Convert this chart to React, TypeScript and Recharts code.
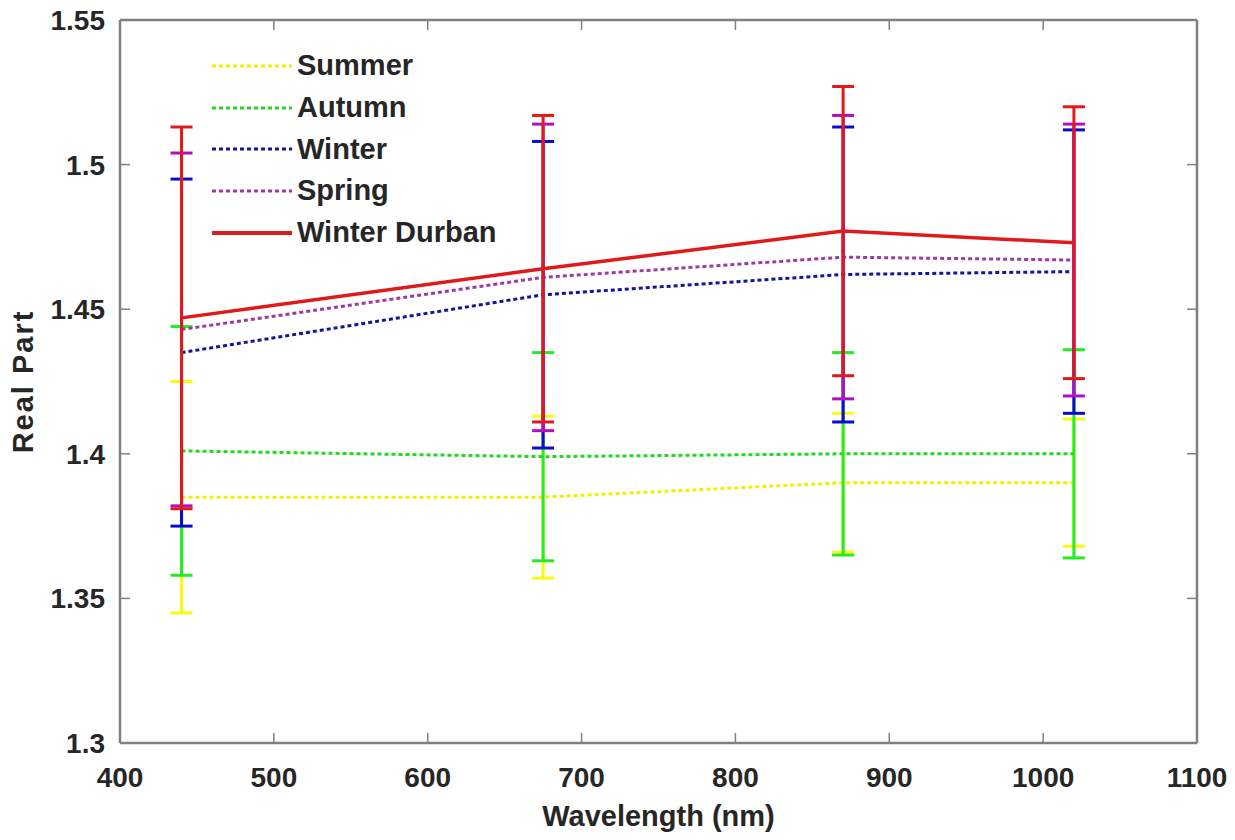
import { LineChart, Line, XAxis, YAxis, ErrorBar, Legend } from 'recharts';

// wavelengths (nm) and seasonal real refractive index with std dev
const wavelengths = [440, 675, 870, 1020];
const summer = [1.385, 1.385, 1.39, 1.39];
const summerErr = [0.04, 0.028, 0.024, 0.022];
const autumn = [1.401, 1.399, 1.4, 1.4];
const autumnErr = [0.043, 0.036, 0.035, 0.036];
const winter = [1.435, 1.455, 1.462, 1.463];
const winterErr = [0.06, 0.053, 0.051, 0.049];
const spring = [1.443, 1.461, 1.468, 1.467];
const springErr = [0.061, 0.053, 0.049, 0.047];
const durban = [1.447, 1.464, 1.477, 1.473];
const durbanErr = [0.066, 0.053, 0.05, 0.047];

const xTicks = [400, 500, 600, 700, 800, 900, 1000, 1100];
const yTicks = [1.3, 1.35, 1.4, 1.45, 1.5, 1.55];

const data = wavelengths.map((wl, i) => ({
  wl,
  summer: summer[i],
  summerErr: summerErr[i],
  autumn: autumn[i],
  autumnErr: autumnErr[i],
  winter: winter[i],
  winterErr: winterErr[i],
  spring: spring[i],
  springErr: springErr[i],
  durban: durban[i],
  durbanErr: durbanErr[i],
}));

const SERIES = [
  { key: 'summer', name: 'Summer', color: '#f0f000', errColor: '#fafa10', dash: '4 3' },
  { key: 'autumn', name: 'Autumn', color: '#22d822', errColor: '#22ee22', dash: '4 3' },
  { key: 'winter', name: 'Winter', color: '#15159a', errColor: '#0a0ad0', dash: '4 3' },
  { key: 'spring', name: 'Spring', color: '#a03aa0', errColor: '#b010c0', dash: '4 3' },
  { key: 'durban', name: 'Winter Durban', color: '#e01a1a', errColor: '#e01a1a', dash: undefined },
];

const FONT = '"Liberation Sans", Arial, sans-serif';
const AXIS = '#808080';
const TEXT = '#262626';
const TICK_LEN = 10;
const X_MARGIN = 24;
const Y_MARGIN = 15;

const labelStyle = { fontSize: 28, fontWeight: 700, fill: TEXT, fontFamily: FONT };

// inward tick + label for the bottom axis
function BottomTick(props: any) {
  const { x, y, payload } = props;
  const axisY = y - X_MARGIN;
  return (
    <g>
      <line x1={x} y1={axisY} x2={x} y2={axisY - TICK_LEN} stroke={AXIS} strokeWidth={1.5} />
      <text x={x} y={y} dy="0.71em" textAnchor="middle" style={labelStyle}>
        {payload.value}
      </text>
    </g>
  );
}

function LeftTick(props: any) {
  const { x, y, payload } = props;
  const axisX = x + Y_MARGIN;
  return (
    <g>
      <line x1={axisX} y1={y} x2={axisX + TICK_LEN} y2={y} stroke={AXIS} strokeWidth={1.5} />
      <text x={x} y={y} dy="0.36em" textAnchor="end" style={labelStyle}>
        {payload.value}
      </text>
    </g>
  );
}

function TopTick(props: any) {
  const { x, y } = props;
  return <line x1={x} y1={y} x2={x} y2={y + TICK_LEN} stroke={AXIS} strokeWidth={1.5} />;
}

function RightTick(props: any) {
  const { x, y } = props;
  return <line x1={x} y1={y} x2={x - TICK_LEN} y2={y} stroke={AXIS} strokeWidth={1.5} />;
}

function LegendBox() {
  return (
    <div style={{ fontFamily: FONT, fontWeight: 700, fontSize: 29, color: TEXT }}>
      {SERIES.map((s) => (
        <div key={s.key} style={{ display: 'flex', alignItems: 'center', height: 41.7 }}>
          <svg width={85} height={10}>
            <line
              x1={0}
              y1={5}
              x2={80}
              y2={5}
              stroke={s.color}
              strokeWidth={s.dash ? 3 : 4}
              strokeDasharray={s.dash}
            />
          </svg>
          <span style={{ lineHeight: 1 }}>{s.name}</span>
        </div>
      ))}
    </div>
  );
}

function YLabel(props: any) {
  const vb = props.viewBox || {};
  const cx = vb.x + 23;
  const cy = vb.y + vb.height / 2;
  return (
    <text
      x={cx}
      y={cy}
      transform={`rotate(-90, ${cx}, ${cy})`}
      textAnchor="middle"
      dominantBaseline="central"
      style={{ fontSize: 29, fontWeight: 700, fill: TEXT, fontFamily: FONT, letterSpacing: 2 }}
    >
      Real Part
    </text>
  );
}

export default function App() {
  return (
    <div style={{ position: 'absolute', left: 0, top: 0, width: 1235, height: 840, background: '#fff' }}>
      <LineChart
        width={1235}
        height={840}
        data={data}
        margin={{ top: 19, right: 37, bottom: 0, left: 0 }}
      >
        <XAxis
          dataKey="wl"
          type="number"
          domain={[400, 1100]}
          ticks={xTicks}
          allowDataOverflow
          height={97}
          stroke={AXIS}
          strokeWidth={2.5}
          tickLine={false}
          tickSize={0}
          tickMargin={X_MARGIN}
          tick={<BottomTick />}
          label={{
            value: 'Wavelength (nm)',
            position: 'insideBottom',
            offset: 14,
            style: { fontSize: 29, fontWeight: 700, fill: TEXT, fontFamily: FONT },
          }}
        />
        <XAxis
          xAxisId="top"
          orientation="top"
          dataKey="wl"
          type="number"
          domain={[400, 1100]}
          ticks={xTicks}
          allowDataOverflow
          height={1}
          stroke={AXIS}
          strokeWidth={2.5}
          tickLine={false}
          tickSize={0}
          tickMargin={0}
          tick={<TopTick />}
        />
        <YAxis
          type="number"
          domain={[1.3, 1.55]}
          ticks={yTicks}
          allowDataOverflow
          width={120}
          stroke={AXIS}
          strokeWidth={2.5}
          tickLine={false}
          tickSize={0}
          tickMargin={Y_MARGIN}
          tick={<LeftTick />}
          label={<YLabel />}
        />
        <YAxis
          yAxisId="right"
          orientation="right"
          type="number"
          domain={[1.3, 1.55]}
          ticks={yTicks}
          allowDataOverflow
          width={1}
          stroke={AXIS}
          strokeWidth={2.5}
          tickLine={false}
          tickSize={0}
          tickMargin={0}
          tick={<RightTick />}
        />
        <Legend
          layout="vertical"
          align="center"
          verticalAlign="middle"
          wrapperStyle={{ left: 212, top: 45, width: 360 }}
          content={() => <LegendBox />}
        />
        {SERIES.map((s) => (
          <Line
            key={s.key}
            dataKey={s.key}
            name={s.name}
            type="linear"
            stroke={s.color}
            strokeWidth={s.dash ? 3 : 3.5}
            strokeDasharray={s.dash}
            dot={false}
            activeDot={false}
            isAnimationActive={false}
          >
            <ErrorBar
              dataKey={`${s.key}Err`}
              direction="y"
              width={11}
              stroke={s.errColor}
              strokeWidth={3}
              isAnimationActive={false}
            />
          </Line>
        ))}
      </LineChart>
    </div>
  );
}
